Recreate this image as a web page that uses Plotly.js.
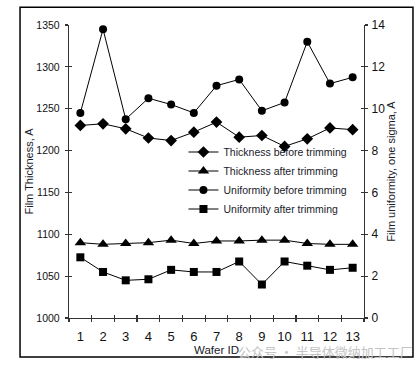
<!DOCTYPE html>
<html>
<head>
<meta charset="utf-8">
<script src="https://cdn.plot.ly/plotly-3.0.1.min.js"></script>
<style>html,body{margin:0;padding:0;background:#fff;}#chart{width:417px;height:367px;}</style>
</head>
<body>
<div id="chart"></div>
<script>
const waferIds = [1,2,3,4,5,6,7,8,9,10,11,12,13];
const tickLabels = ["1","2","3","4","5","6","7","8","9","10","11","12","13"];
const boundaries = [0.5,1.5,2.5,3.5,4.5,5.5,6.5,7.5,8.5,9.5,10.5,11.5,12.5,13.5];
const thicknessBefore = [1230,1232,1226,1215,1212,1222,1234,1216,1218,1205,1214,1227,1225];
const thicknessAfter = [1090,1088,1089,1090,1093,1089,1092,1092,1093,1093,1089,1088,1088];
const uniformityBefore = [9.8,13.8,9.5,10.5,10.2,9.8,11.1,11.4,9.9,10.3,13.2,11.2,11.5];
const uniformityAfter = [2.9,2.2,1.8,1.85,2.3,2.2,2.2,2.7,1.6,2.7,2.5,2.3,2.4];

const lineStyle = {color:'#000', width:1};
const traces = [
  {x:waferIds, y:thicknessBefore, name:'Thickness before trimming', mode:'lines+markers', line:lineStyle,
   marker:{symbol:'diamond', size:9, color:'#000'}, xaxis:'x', yaxis:'y'},
  {x:waferIds, y:thicknessAfter, name:'Thickness after trimming', mode:'lines+markers', line:lineStyle,
   marker:{symbol:'triangle-up', size:10, color:'#000'}, xaxis:'x', yaxis:'y'},
  {x:waferIds, y:uniformityBefore, name:'Uniformity before trimming', mode:'lines+markers', line:lineStyle,
   marker:{symbol:'circle', size:8, color:'#000'}, xaxis:'x', yaxis:'y2'},
  {x:waferIds, y:uniformityAfter, name:'Uniformity after trimming', mode:'lines+markers', line:lineStyle,
   marker:{symbol:'square', size:8, color:'#000'}, xaxis:'x', yaxis:'y2'}
];
// invisible helper traces so the crossing-tick overlay axes are drawn
traces.push({x:[null], y:[null], xaxis:'x2', yaxis:'y3', showlegend:false, hoverinfo:'skip', mode:'markers'});
traces.push({x:[null], y:[null], xaxis:'x3', yaxis:'y4', showlegend:false, hoverinfo:'skip', mode:'markers'});

const font = 'Liberation Sans, Arial, sans-serif';
const axColor = '#333';
const layout = {
  width:417, height:367,
  margin:{l:69, r:53, t:25, b:49},
  paper_bgcolor:'#fff', plot_bgcolor:'#fff',
  font:{family:font, color:'#1a1a1a'},
  showlegend:true,
  legend:{x:0.388, y:0.616, xanchor:'left', yanchor:'top', bgcolor:'rgba(0,0,0,0)',
          font:{size:10.5, family:font, color:'#1a1a2a'}, tracegroupgap:0},
  xaxis:{range:[0.5,13.5], tickvals:waferIds, ticktext:tickLabels, ticks:'', showgrid:false, zeroline:false,
         showline:true, linecolor:axColor, linewidth:1.2, tickfont:{size:13, color:'#111'},
         ticklabelstandoff:6,
         title:{text:'Wafer ID', font:{size:11.5, color:'#1a1a2a'}, standoff:0}},
  xaxis2:{overlaying:'x', anchor:'y', range:[0.5,13.5], tickvals:boundaries, ticks:'outside', ticklen:3,
          tickcolor:axColor, tickwidth:1.2, showticklabels:false, showgrid:false, zeroline:false, showline:false},
  xaxis3:{overlaying:'x', anchor:'y', range:[0.5,13.5], tickvals:boundaries, ticks:'inside', ticklen:3,
          tickcolor:axColor, tickwidth:1.2, showticklabels:false, showgrid:false, zeroline:false, showline:false},
  yaxis:{range:[1000,1350], dtick:50, ticks:'outside', ticklen:3, tickcolor:axColor, tickwidth:1.2,
         showgrid:false, zeroline:false, showline:true, linecolor:axColor, linewidth:1.2,
         tickfont:{size:10.5, color:'#111'}, ticklabelstandoff:3,
         title:{text:'Film Thickness, A', font:{size:11, color:'#1a1a2a'}, standoff:0}},
  yaxis2:{overlaying:'y', side:'right', anchor:'x', range:[0,14], dtick:2, ticks:'outside', ticklen:3,
          tickcolor:axColor, tickwidth:1.2, showgrid:false, zeroline:false, showline:true,
          linecolor:axColor, linewidth:1.2, tickfont:{size:12, color:'#111'}, ticklabelstandoff:1,
          title:{text:'Film uniformity, one sigma, A', font:{size:11, color:'#1a1a2a'}, standoff:3}},
  yaxis3:{overlaying:'y', side:'left', anchor:'x', range:[1000,1350], dtick:50, ticks:'inside', ticklen:3,
          tickcolor:axColor, tickwidth:1.2, showticklabels:false, showgrid:false, zeroline:false, showline:false},
  yaxis4:{overlaying:'y', side:'right', anchor:'x', range:[0,14], dtick:2, ticks:'inside', ticklen:3,
          tickcolor:axColor, tickwidth:1.2, showticklabels:false, showgrid:false, zeroline:false, showline:false},
  shapes:[{type:'rect', xref:'paper', yref:'paper', x0:-0.166, x1:1.166, y0:-0.133, y1:1.061,
           line:{color:'#000', width:1.5}, fillcolor:'rgba(0,0,0,0)', layer:'below'}],
  annotations:[{xref:'paper', yref:'paper', x:0.868, y:-0.113, xanchor:'center', yanchor:'middle',
                text:'公众号 · 半导体微纳加工工厂', showarrow:false,
                font:{family:'Noto Sans CJK SC, sans-serif', size:13, color:'#c4c4c4'}}]
};
Plotly.newPlot('chart', traces, layout, {displayModeBar:false, staticPlot:true});
</script>
</body>
</html>
